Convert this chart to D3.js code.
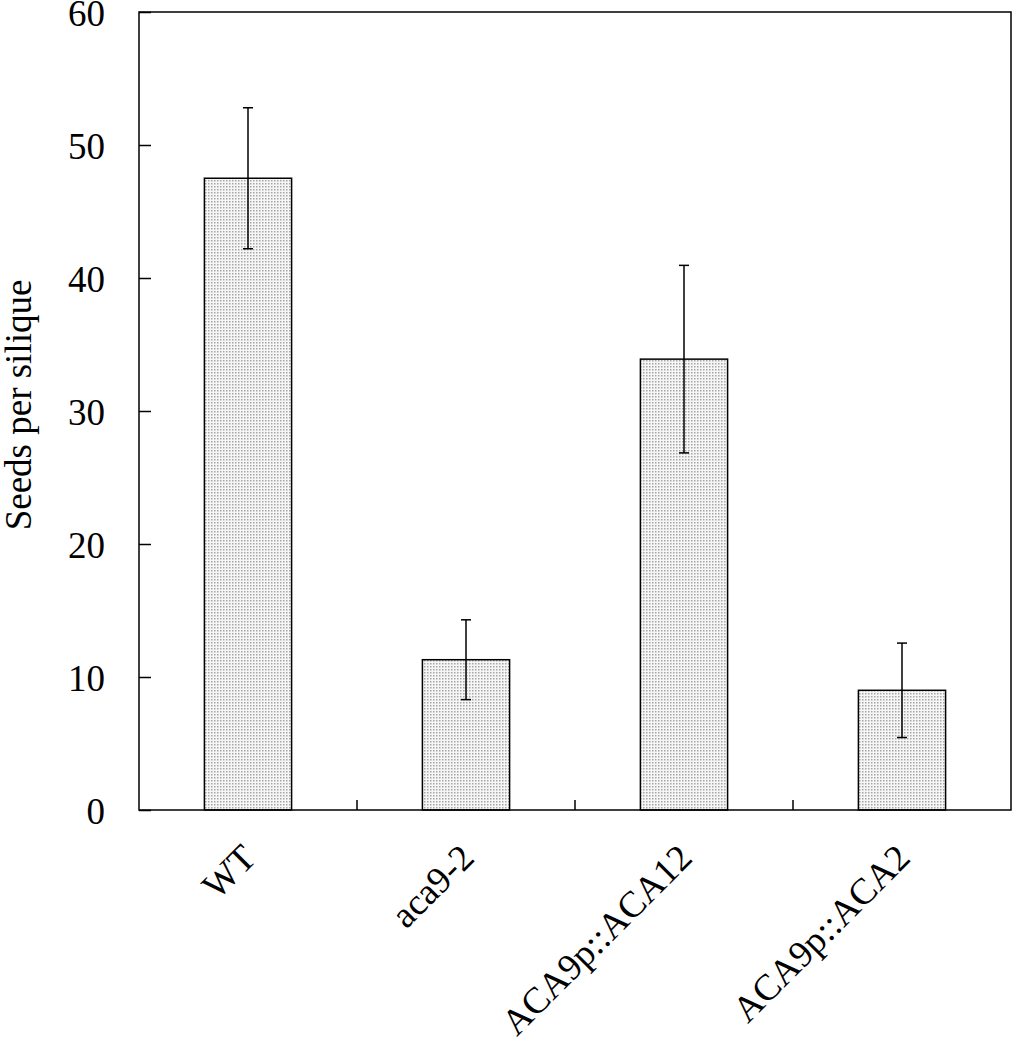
<!doctype html>
<html>
<head>
<script src="https://d3js.org/d3.v7.min.js"></script>
<style>
  body { margin: 0; background: #fff; }
  text { font-family: "Liberation Serif", "Times New Roman", serif; fill: #000; }
</style>
</head>
<body>
<div id="chart"></div>
<script>
// data
var categories = ["WT", "aca9-2", "ACA9p::ACA12", "ACA9p::ACA2"];
var seeds = [47.5, 11.3, 33.9, 9.0];
var errors = [5.3, 3.0, 7.05, 3.55];
var yTicks = [0, 10, 20, 30, 40, 50, 60];

var W = 1013, H = 1050;
var margin = {top: 12, right: 2, bottom: 240, left: 139};
var width = W - margin.left - margin.right,
    height = H - margin.top - margin.bottom;

var svg = d3.select("#chart").append("svg")
    .attr("width", W).attr("height", H);

// dotted fill pattern
var defs = svg.append("defs");
var pat = defs.append("pattern")
    .attr("id", "dots")
    .attr("patternUnits", "userSpaceOnUse")
    .attr("width", 3).attr("height", 3);
pat.append("rect").attr("width", 3).attr("height", 3).attr("fill", "#f6f6f6");
pat.append("rect").attr("x", 0).attr("y", 0).attr("width", 1.5).attr("height", 1.5).attr("fill", "#a6a6a6");

var g = svg.append("g")
    .attr("transform", "translate(" + margin.left + "," + margin.top + ")");

var x = d3.scaleBand().domain(categories).range([0, width]).paddingInner(0).paddingOuter(0);
var y = d3.scaleLinear().domain([0, 60]).range([height, 0]);

var barW = x.bandwidth() * 0.4;

// bars
g.selectAll(".bar").data(categories).enter().append("rect")
    .attr("class", "bar")
    .attr("x", function(d) { return x(d) + (x.bandwidth() - barW) / 2; })
    .attr("y", function(d, i) { return y(seeds[i]); })
    .attr("width", barW)
    .attr("height", function(d, i) { return height - y(seeds[i]); })
    .attr("fill", "url(#dots)")
    .attr("stroke", "#000")
    .attr("stroke-width", 1.5);

// error bars
var cap = 5;
categories.forEach(function(c, i) {
  var cx = x(c) + x.bandwidth() / 2;
  var eb = g.append("g").attr("stroke", "#000").attr("stroke-width", 1.5);
  eb.append("line").attr("x1", cx).attr("x2", cx)
    .attr("y1", y(seeds[i] + errors[i])).attr("y2", y(seeds[i] - errors[i]));
  eb.append("line").attr("x1", cx - cap).attr("x2", cx + cap)
    .attr("y1", y(seeds[i] + errors[i])).attr("y2", y(seeds[i] + errors[i]));
  eb.append("line").attr("x1", cx - cap).attr("x2", cx + cap)
    .attr("y1", y(seeds[i] - errors[i])).attr("y2", y(seeds[i] - errors[i]));
});

// frame
g.append("rect").attr("width", width).attr("height", height)
    .attr("fill", "none").attr("stroke", "#000").attr("stroke-width", 1.5);

// y axis, ticks inward
var yAxis = g.append("g")
    .call(d3.axisLeft(y).tickValues(yTicks).tickSize(-12).tickPadding(34));
yAxis.select(".domain").remove();
yAxis.selectAll(".tick line").attr("stroke-width", 1.5);
yAxis.selectAll("text").style("font-size", "37px").attr("dy", "0.36em");

// x axis: inward ticks at category boundaries
var bounds = categories.slice(1).map(function(c) { return x(c); });
g.selectAll(".xtick").data(bounds).enter().append("line")
    .attr("x1", function(d) { return d; }).attr("x2", function(d) { return d; })
    .attr("y1", height).attr("y2", height - 10)
    .attr("stroke", "#000").attr("stroke-width", 1.5);

// rotated category labels
g.selectAll(".xlab").data(categories).enter().append("text")
    .attr("transform", function(d) {
      return "translate(" + (x(d) + x.bandwidth() / 2 + 10) + "," + (height + 50) + ") rotate(-45)";
    })
    .attr("text-anchor", "end")
    .style("font-size", "37px")
    .text(function(d) { return d; });

// y axis title
svg.append("text")
    .attr("transform", "translate(31,405) rotate(-90)")
    .attr("text-anchor", "middle")
    .style("font-size", "37px")
    .text("Seeds per silique");
</script>
</body>
</html>
